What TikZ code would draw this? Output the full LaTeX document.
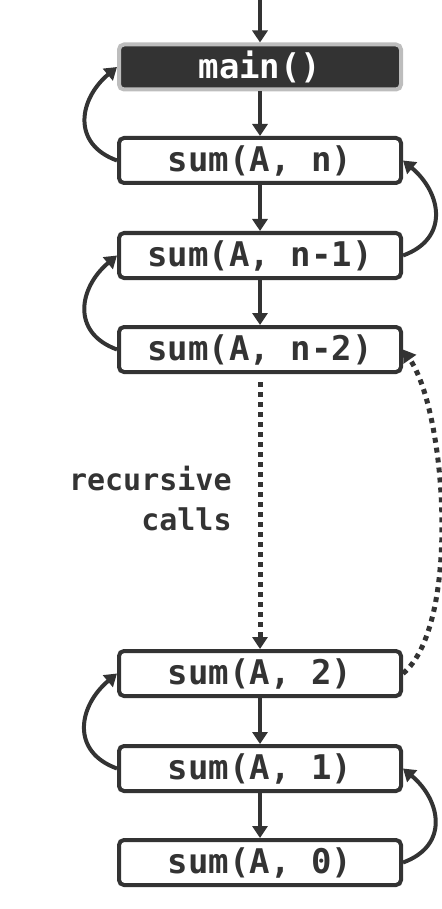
\documentclass[tikz,border=0pt]{standalone}
\usepackage{fontspec}
\setmonofont{DejaVu Sans Mono}
\usetikzlibrary{arrows.meta}

\definecolor{ink}{HTML}{333333}
\definecolor{rim}{HTML}{BDBDBD}

\tikzset{
  call/.style={draw=ink, line width=2pt, rounded corners=2.5pt, fill=white, text=ink,
    minimum width=141pt, minimum height=22.5pt, inner sep=0pt,
    font=\fontsize{17}{20}\selectfont\ttfamily\bfseries},
  link/.style={draw=ink, line width=2pt, -{Triangle[width=7.5pt,length=6pt]}},
  dots/.style={link, line width=2.5pt, dash pattern=on 2.5pt off 2.5pt}
}

\begin{document}
\begin{tikzpicture}[x=0.5pt, y=0.5pt]
    \useasboundingbox (0,0) rectangle (442,-909);
    \coordinate (in) at (260,0);
    \node[call, fill=ink, draw=rim, text=white] (main) at (260,-67) {main()};
    \foreach \n/\y/\t in {s0/-160.5/{sum(A, n)}, s1/-255.5/{sum(A, n-1)}, s2/-349.5/{sum(A, n-2)},
                          s3/-673.5/{sum(A, 2)}, s4/-768.5/{sum(A, 1)}, s5/-862.5/{sum(A, 0)}}
    \node[call] (\n) at (260,\y) {\t};
    \node[inner sep=0pt, anchor=east, align=right, text=ink,
          font=\fontsize{15}{20}\selectfont\ttfamily\bfseries] (note) at (232,-499) {recursive\\calls};

    % calls going down
    \foreach \a/\b in {in/main, main/s0, s0/s1, s1/s2, s3/s4, s4/s5}
    \draw[link] (\a) -- (\b);
    \draw[dots, shorten <=4pt] (s2) -- (s3);

    % returns going up
    \draw[link] (s0.west) to[out=160, in=220, looseness=1.35] (main.west);
    \draw[link] (s1.east) to[out=20, in=-40, looseness=1.35] (s0.east);
    \draw[link] (s2.west) to[out=160, in=220, looseness=1.35] (s1.west);
    \draw[dots] (s3.east) to[out=40, in=-55, looseness=0.6] (s2.east);
    \draw[link] (s4.west) to[out=160, in=220, looseness=1.35] (s3.west);
    \draw[link] (s5.east) to[out=20, in=-40, looseness=1.35] (s4.east);
  \end{tikzpicture}
\end{document}
